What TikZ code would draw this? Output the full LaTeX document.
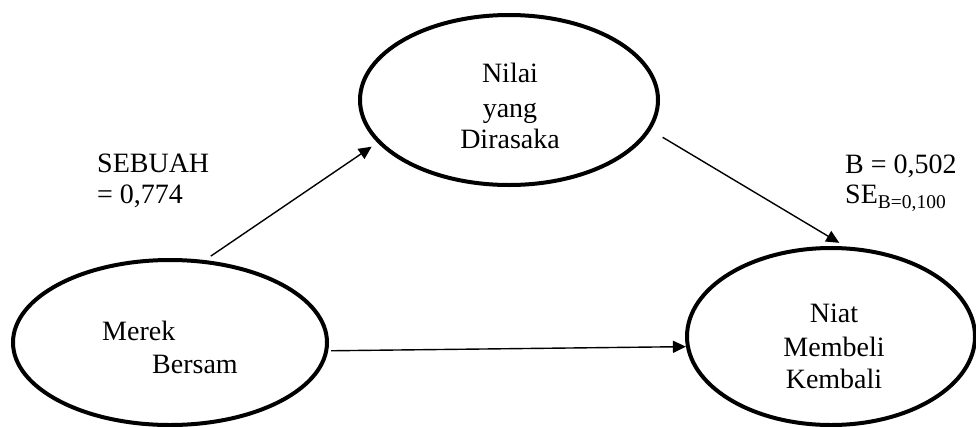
\documentclass[tikz,border=0pt]{standalone}
\usepackage{fontspec}
\setmainfont{Liberation Serif}
\usetikzlibrary{shapes.geometric,arrows.meta}
\begin{document}
\begin{tikzpicture}[x=1pt,y=-1pt,
  latent/.style={draw,ellipse,line width=4pt,inner sep=0pt},
  lbl/.style={anchor=base,inner sep=0pt,font=\fontsize{28}{33}\selectfont},
  lblw/.style={anchor=base west,inner sep=0pt,font=\fontsize{28}{33}\selectfont},
  arr/.style={line width=1.4pt,-{Triangle[length=13pt,width=12pt]}}]
\useasboundingbox (0,0) rectangle (976,426);
% constructs
\node[latent,minimum width=298pt,minimum height=170pt] (T) at (509,100) {};
\node[latent,minimum width=314pt,minimum height=165pt] (L) at (170,342.5) {};
\node[latent,minimum width=288pt,minimum height=177pt] (R) at (831,336.5) {};
% texts in ellipses
\node[lbl] (t1) at (510,82) {Nilai};
\node[lbl] (t2) at (510,117) {yang};
\node[lbl] (t3) at (510,148) {Dirasaka};
\node[lbl] (r1) at (834,322) {Niat};
\node[lbl] (r2) at (834,356) {Membeli};
\node[lbl] (r3) at (834,388) {Kembali};
\node[lblw] (l1) at (102,340) {Merek};
\node[lblw] (l2) at (152,373) {Bersam};
% path labels
\node[lblw] (a1) at (97,172) {SEBUAH};
\node[lblw] (a2) at (97,203) {= 0,774};
\node[lblw] (b1) at (845,173) {B = 0,502};
\node[lblw] (b2) at (845,203) {SE{\fontsize{19.5}{20}\selectfont\raisebox{-5pt}{B=0,100}}};
% connectors
\draw[arr,shorten <=7pt,shorten >=7pt] (L.67.6) -- (T.198.4);
\draw[arr,shorten <=14pt,shorten >=7pt] (T.-12.8) -- (R.81.9);
\draw[arr,shorten <=3pt] (L.-3.9) -- (R.184.3);
\end{tikzpicture}
\end{document}
